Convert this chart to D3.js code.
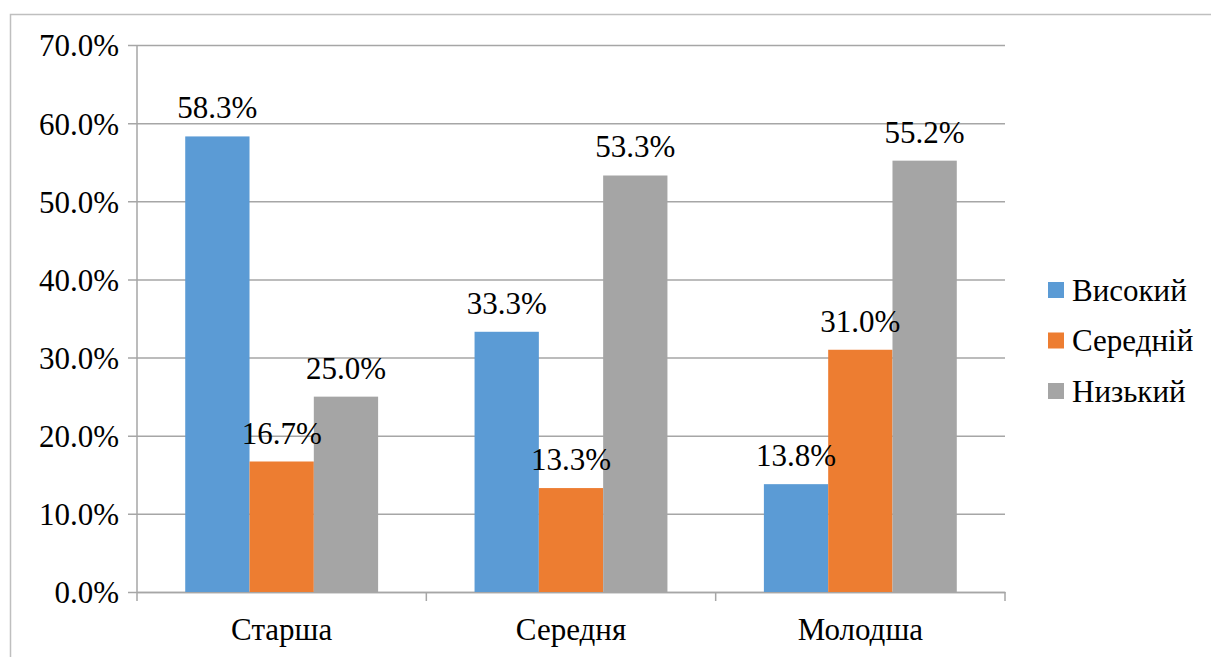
<!DOCTYPE html>
<html>
<head>
<meta charset="utf-8">
<script src="https://cdn.jsdelivr.net/npm/d3@7"></script>
<style>
  body { margin: 0; background: #fff; }
  svg text { font-family: 'Times New Roman', 'Liberation Serif', Tinos, serif !important; }
</style>
</head>
<body>
<div id="chart"></div>
<script>
// data
const categories = ['Старша', 'Середня', 'Молодша'];
const seriesNames = ['Високий', 'Середній', 'Низький'];
const highValues = [58.3, 33.3, 13.8];
const midValues = [16.7, 13.3, 31.0];
const lowValues = [25.0, 53.3, 55.2];
const yTicks = [0, 10, 20, 30, 40, 50, 60, 70];
const colors = ['#5B9BD5', '#ED7D31', '#A5A5A5'];

const seriesValues = [highValues, midValues, lowValues];
const FONT = 'Times New Roman, Liberation Serif, serif';
const FS = 31;

const width = 1211;
const height = 657;
const margin = { top: 45, left: 137 };
const innerW = 1005 - margin.left;
const innerH = 592 - margin.top;

const svg = d3.select('#chart').append('svg')
    .attr('width', width)
    .attr('height', height)
    .attr('font-family', FONT)
    .attr('font-size', FS);

// chart border
svg.append('rect')
    .attr('x', 10.5).attr('y', 14.5)
    .attr('width', width + 20).attr('height', height + 20)
    .attr('fill', 'none')
    .attr('stroke', '#BFBFBF')
    .attr('stroke-width', 1.5);

const g = svg.append('g')
    .attr('transform', 'translate(' + margin.left + ',' + margin.top + ')');

const x0 = d3.scaleBand()
    .domain(categories)
    .range([0, innerW])
    .padding(0);

// gap width 150% -> outer padding 0.75 of a bar on each side
const x1 = d3.scaleBand()
    .domain(seriesNames)
    .range([0, x0.bandwidth()])
    .paddingInner(0)
    .paddingOuter(0.75);

const y = d3.scaleLinear()
    .domain([0, 70])
    .range([innerH, 0]);

// gridlines + y labels
const yAxis = g.append('g')
    .attr('transform', 'translate(-9,0)')
    .call(d3.axisLeft(y).tickValues(yTicks).tickSize(-innerW - 9).tickFormat(d => d.toFixed(1) + '%').tickPadding(22));
yAxis.attr('font-family', FONT).attr('font-size', FS);
yAxis.select('.domain').remove();
yAxis.selectAll('.tick line').attr('stroke', '#A6A6A6').attr('stroke-width', 1.5);
yAxis.selectAll('.tick text')
    .attr('dy', '0.35em')
    .attr('x', -9)
    .attr('fill', '#000');

// y axis line
g.append('line')
    .attr('x1', 0).attr('x2', 0)
    .attr('y1', 0).attr('y2', innerH)
    .attr('stroke', '#A6A6A6').attr('stroke-width', 1.5);

// x axis
const xAxis = g.append('g')
    .attr('transform', 'translate(0,' + innerH + ')')
    .call(d3.axisBottom(x0).tickSize(0).tickPadding(26));
xAxis.attr('font-family', FONT).attr('font-size', FS);
xAxis.select('.domain').attr('stroke', '#A6A6A6').attr('stroke-width', 1.5);
xAxis.selectAll('.tick text').attr('fill', '#000');

// category separator ticks
const sepTicks = [0].concat(categories.map(c => x0(c) + x0.bandwidth()));
g.selectAll('.sep')
    .data(sepTicks)
    .enter().append('line')
    .attr('x1', d => d).attr('x2', d => d)
    .attr('y1', innerH).attr('y2', innerH + 9)
    .attr('stroke', '#A6A6A6').attr('stroke-width', 1.5);

// bars
const groups = g.selectAll('.grp')
    .data(categories)
    .enter().append('g')
    .attr('transform', d => 'translate(' + x0(d) + ',0)');

const rows = (c, i) => seriesNames.map((s, j) => ({ s: s, j: j, v: seriesValues[j][i] }));

groups.selectAll('rect')
    .data(rows)
    .enter().append('rect')
    .attr('x', d => x1(d.s))
    .attr('y', d => y(d.v))
    .attr('width', x1.bandwidth())
    .attr('height', d => innerH - y(d.v))
    .attr('fill', d => colors[d.j]);

groups.selectAll('.lbl')
    .data(rows)
    .enter().append('text')
    .attr('x', d => x1(d.s) + x1.bandwidth() / 2)
    .attr('y', d => y(d.v) - 18)
    .attr('text-anchor', 'middle')
    .attr('fill', '#000')
    .text(d => d.v.toFixed(1) + '%');

// legend
const legend = svg.append('g')
    .attr('transform', 'translate(1048,290)');
seriesNames.forEach((s, i) => {
    const row = legend.append('g').attr('transform', 'translate(0,' + (i * 50.5) + ')');
    row.append('rect')
        .attr('x', 0).attr('y', -8)
        .attr('width', 16).attr('height', 16)
        .attr('fill', colors[i]);
    row.append('text')
        .attr('x', 24).attr('y', 0)
        .attr('dy', '0.35em')
        .attr('fill', '#000')
        .text(s);
});
</script>
</body>
</html>
